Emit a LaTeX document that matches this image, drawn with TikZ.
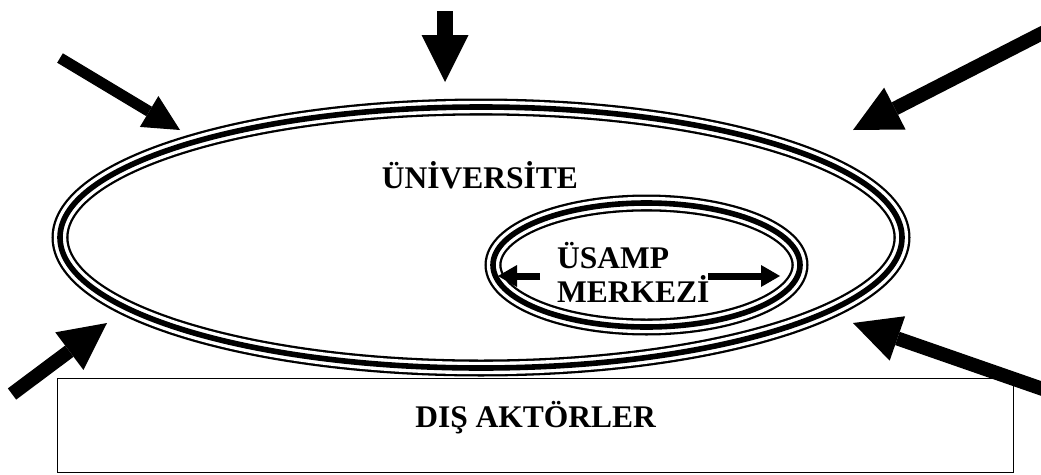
\documentclass[tikz,border=0pt]{standalone}
\usepackage{fontspec}
\setmainfont{Liberation Serif}
\usepackage{tikz}
\usetikzlibrary{arrows.meta}

\tikzset{
	triple/.style={line width=17pt,postaction={draw=white,line width=12.4pt},postaction={draw=black,line width=5.6pt}},
	bigarrow/.style={line width=14pt,-{Triangle[length=47pt,width=47pt,line width=0pt]}},
	midarrow/.style={line width=11pt,-{Triangle[length=36pt,width=36pt,line width=0pt]}},
	smallarrow/.style={line width=7pt,-{Triangle[length=19pt,width=22pt,line width=0pt]}},
	lbl/.style={font=\fontsize{31.5}{34}\selectfont\bfseries}
}

\begin{document}
\begin{tikzpicture}[x=1pt,y=-1pt]
		\useasboundingbox (0,0) rectangle (1041,474);
		\coordinate (U) at (481,237.5);
		\coordinate (S) at (646.5,265);
		\draw[triple] (U) ellipse [x radius=421,y radius=130.5];
		\draw[triple] (S) ellipse [x radius=153.5,y radius=62];
		\node[lbl,anchor=base] (uni) at (480,188) {ÜNİVERSİTE};
		\node[lbl,anchor=base west,align=left,inner sep=0pt] (usamp) at (557,302) {ÜSAMP\\MERKEZİ};
		\node[lbl,draw,line width=1.3pt,anchor=north west,minimum width=956pt,inner sep=0pt,text height=49pt,text depth=45pt] (dis) at (57,378) {DIŞ AKTÖRLER};
		% outside arrows
		\coordinate (A) at (445,11);
		\coordinate (A1) at (445,82);
		\coordinate (B) at (60,58);
		\coordinate (B1) at (180,130);
		\coordinate (C) at (1060,24);
		\coordinate (C1) at (853,130);
		\coordinate (D) at (12,394);
		\coordinate (D1) at (107,323);
		\coordinate (E) at (1060,395);
		\coordinate (E1) at (853,323);
		\draw[line width=16pt,-{Triangle[length=47pt,width=47pt,line width=0pt]}] (A)--(A1);
		\draw[midarrow] (B)--(B1);
		\draw[bigarrow] (C)--(C1);
		\draw[bigarrow] (D)--(D1);
		\draw[bigarrow] (E)--(E1);
		% inside arrows
		\coordinate (F) at (540,276);
		\coordinate (F1) at (498,276);
		\coordinate (G) at (708,276);
		\coordinate (G1) at (780,276);
		\draw[smallarrow] (F)--(F1);
		\draw[smallarrow] (G)--(G1);
	\end{tikzpicture}
\end{document}
